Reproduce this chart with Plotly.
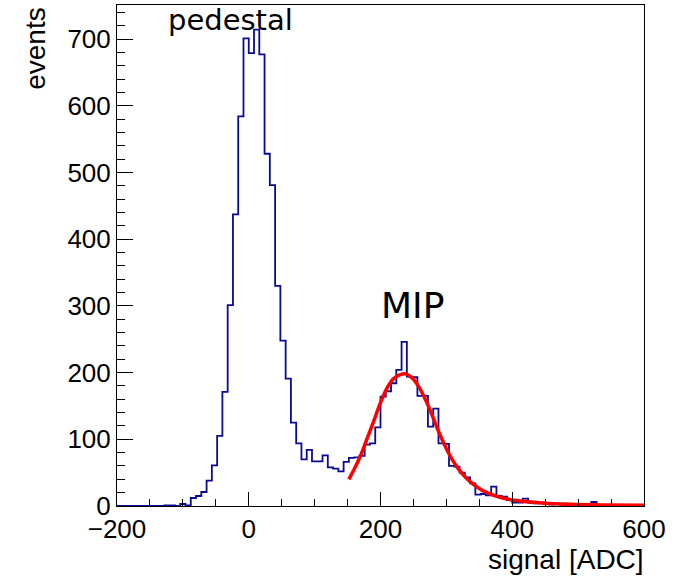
import plotly.graph_objects as go

# ---- data ----
bin_low = -200
bin_width = 8
counts = [
    0, 0, 0, 0, 0, 0, 0, 0, 0, 1,
    1, 0, 3, 1, 12, 15, 21, 38, 61, 105,
    171, 301, 437, 584, 701, 679, 714, 677, 528, 481,
    330, 248, 191, 125, 94, 70, 84, 67, 67, 76,
    58, 56, 52, 66, 72, 73, 75, 92, 94, 118,
    164, 172, 184, 204, 246, 194, 193, 165, 165, 119,
    146, 94, 93, 60, 59, 50, 43, 34, 17, 18,
    16, 29, 15, 14, 9, 5, 5, 11, 5, 4,
    5, 3, 2, 3, 2, 1, 2, 1, 3, 1,
    6, 1, 1, 0, 1, 0, 1, 0, 0, 0,
]

fit_x = [152, 160, 170, 180, 190, 200, 210, 220, 230, 238, 248, 258, 268, 278,
         288, 298, 308, 318, 328, 340, 355, 375, 400, 440, 490, 540, 600]
fit_y = [40, 55, 76, 102, 128, 155, 177, 191, 197, 198, 192, 179, 160, 137,
         112, 90, 71, 56, 44, 33, 23, 15, 9, 5, 2.5, 1.5, 1]

x_range = [-200, 600]
y_range = [0, 751]

edges = [bin_low + bin_width * i for i in range(len(counts) + 1)]
steps = counts + [counts[-1]]

fig = go.Figure()
fig.add_trace(go.Scatter(
    x=edges, y=steps, mode="lines", line_shape="hv",
    line=dict(color="#0a0a96", width=1.8), showlegend=False, hoverinfo="skip"))
fig.add_trace(go.Scatter(
    x=fit_x, y=fit_y, mode="lines", line_shape="spline",
    line=dict(color="#ff0000", width=3.5), showlegend=False, hoverinfo="skip"))

tickfont = dict(family="Liberation Sans, Arial, sans-serif", size=26, color="black")

fig.update_xaxes(
    range=x_range, showgrid=False, zeroline=False,
    showline=True, linecolor="black", linewidth=1, mirror=True,
    ticks="inside", tickmode="linear", tick0=-200, dtick=200, ticklen=14,
    tickcolor="black", tickwidth=1,
    minor=dict(ticks="inside", dtick=50, ticklen=7, tickcolor="black", tickwidth=1),
    tickfont=tickfont,
)
fig.update_yaxes(
    range=y_range, showgrid=False, zeroline=False,
    showline=True, linecolor="black", linewidth=1, mirror=True,
    ticks="inside", tickmode="linear", tick0=0, dtick=100, ticklen=16,
    tickcolor="black", tickwidth=1,
    minor=dict(ticks="inside", dtick=20, ticklen=8, tickcolor="black", tickwidth=1),
    tickfont=tickfont,
)

fig.add_annotation(text="events", xref="paper", yref="paper", x=-0.155, y=1.0,
                   xanchor="center", yanchor="top", textangle=-90, showarrow=False,
                   font=dict(family="Liberation Sans, Arial, sans-serif", size=28, color="black"))
fig.add_annotation(text="signal [ADC]", xref="paper", yref="paper", x=1.004, y=-0.106,
                   xanchor="right", yanchor="middle", showarrow=False,
                   font=dict(family="Liberation Sans, Arial, sans-serif", size=28, color="black"))
fig.add_annotation(text="pedestal", xref="x", yref="y", x=-28, y=729,
                   xanchor="center", yanchor="middle", showarrow=False,
                   font=dict(family="DejaVu Sans", size=29, color="black"))
fig.add_annotation(text="MIP", xref="x", yref="y", x=248, y=301,
                   xanchor="center", yanchor="middle", showarrow=False,
                   font=dict(family="DejaVu Sans", size=36, color="black"))

fig.update_layout(
    width=681, height=580,
    margin=dict(l=117, r=37, t=5, b=74),
    paper_bgcolor="white", plot_bgcolor="white",
)

fig.write_html("out.html")
